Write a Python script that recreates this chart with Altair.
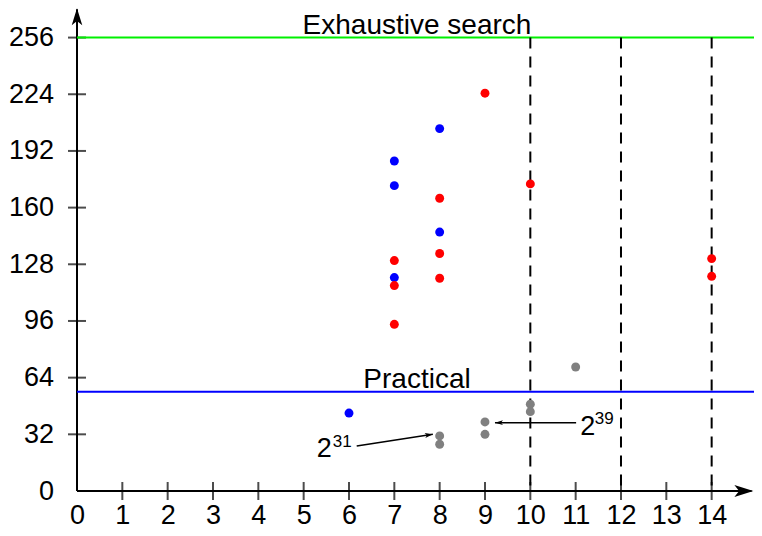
import altair as alt
import pandas as pd

FONT = "Liberation Sans"

# ---- data ----
blue_x = [6, 7, 7, 7, 8, 8]
blue_y = [44, 186.3, 172.4, 120.5, 204.6, 146.2]
red_x = [7, 7, 7, 8, 8, 8, 9, 10, 14, 14]
red_y = [130.1, 116.0, 94.1, 165.3, 134.1, 120.1, 224.6, 173.4, 131.2, 121.2]
gray_x = [8, 8, 9, 9, 10, 10, 11]
gray_y = [31.1, 26.4, 39.0, 32.0, 49.0, 44.8, 70.0]

x_ticks = list(range(0, 15))
y_ticks = [0, 32, 64, 96, 128, 160, 192, 224, 256]

hline_y = [256, 56]
hline_names = ["Exhaustive search", "Practical"]
hline_colors = ["#00f000", "#0000ff"]
hline_label_x = [7.5, 7.5]
hline_label_y = [258.3, 58.4]

dashed_x = [10, 12, 14]

arrow_tail_x = [6.17, 11.01]
arrow_tail_y = [25.4, 38.6]
arrow_tip_x = [7.85, 9.22]
arrow_tip_y = [32.0, 38.6]
arrow_angle = [351.3, 180]

ann_base = ["2", "2"]
ann_base_x = [5.29, 11.10]
ann_base_y = [19.2, 31.4]
ann_sup = ["31", "39"]
ann_sup_x = [5.64, 11.42]
ann_sup_y = [24.8, 38.0]

X_MAX = 14.934  # right end of the visible plot
Y_MAX = 272.7

# ---- scales / axes ----
xs = alt.Scale(domain=[0, X_MAX], nice=False, zero=False)
ys = alt.Scale(domain=[0, Y_MAX], nice=False, zero=False)
xaxis = alt.Axis(values=x_ticks, title=None, grid=False, domain=False, ticks=False,
                 tickSize=0, labelFontSize=27, labelFont=FONT, labelColor="black",
                 labelPadding=11, labelFlush=False, labelOverlap=False, labelAngle=0)
yaxis = alt.Axis(values=y_ticks, title=None, grid=False, domain=False, ticks=False,
                 tickSize=0, labelFontSize=27, labelFont=FONT, labelColor="black",
                 labelPadding=23.5, labelFlush=False, labelOverlap=False)


def X(f):
    return alt.X(f, type="quantitative", scale=xs, axis=xaxis)


def Y(f):
    return alt.Y(f, type="quantitative", scale=ys, axis=yaxis)


# ---- tables ----
pts = pd.DataFrame({
    "x": blue_x + red_x + gray_x,
    "y": blue_y + red_y + gray_y,
    "s": ["blue"] * len(blue_x) + ["red"] * len(red_x) + ["gray"] * len(gray_x),
})
hl = pd.DataFrame({"y": hline_y, "name": hline_names, "c": hline_colors,
                   "x0": [0, 0], "x1": [X_MAX, X_MAX],
                   "lx": hline_label_x, "ly": hline_label_y})
dl = pd.DataFrame({"x": dashed_x, "top": [256] * 3, "bot": [0] * 3})
xt = pd.DataFrame({"x": x_ticks[1:], "y": [0] * (len(x_ticks) - 1)})
yt = pd.DataFrame({"y": y_ticks[1:], "x": [0] * (len(y_ticks) - 1)})
axl = pd.DataFrame({"x": [0, 0], "y": [0, 0], "x2": [14.88, 0], "y2": [0, 272.0]})
axh = pd.DataFrame({"x": [14.92, 0], "y": [0, 272.5], "a": [0, 270]})
arr = pd.DataFrame({"x": arrow_tail_x, "y": arrow_tail_y, "x2": arrow_tip_x,
                    "y2": arrow_tip_y, "a": arrow_angle})
tb = pd.DataFrame({"t": ann_base, "x": ann_base_x, "y": ann_base_y})
ts = pd.DataFrame({"t": ann_sup, "x": ann_sup_x, "y": ann_sup_y})

HEAD = "M 0 0 L -2 -0.62 L -1.5 0 L -2 0.62 Z"

axis_lines = alt.Chart(axl).mark_rule(color="black", strokeWidth=2).encode(
    x=X("x"), y=Y("y"), x2="x2", y2="y2")
x_tick_marks = alt.Chart(xt).mark_tick(orient="vertical", size=18, thickness=2,
                                       color="black").encode(x=X("x"), y=Y("y"))
y_tick_marks = alt.Chart(yt).mark_tick(orient="horizontal", size=18, thickness=2,
                                       color="black").encode(x=X("x"), y=Y("y"))
x_head = alt.Chart(axh.iloc[[0]]).mark_point(shape=HEAD, filled=True, size=361,
                                             color="black", opacity=1).encode(
    x=X("x"), y=Y("y"), angle=alt.Angle("a", scale=None))
y_head = alt.Chart(axh.iloc[[1]]).mark_point(shape=HEAD, filled=True, size=289,
                                             color="black", opacity=1).encode(
    x=X("x"), y=Y("y"), angle=alt.Angle("a", scale=None))

hlines = alt.Chart(hl).mark_rule(strokeWidth=2).encode(
    x=X("x0"), x2="x1", y=Y("y"), color=alt.Color("c", scale=None))
dlines = alt.Chart(dl).mark_rule(strokeWidth=2, color="black", strokeDash=[11, 8]).encode(
    x=X("x"), y=Y("top"), y2="bot")
hlabels = alt.Chart(hl).mark_text(font=FONT, fontSize=28, align="center",
                                  baseline="alphabetic", color="black").encode(
    x=X("lx"), y=Y("ly"), text="name")

arr_lines = alt.Chart(arr).mark_rule(color="black", strokeWidth=1.5).encode(
    x=X("x"), y=Y("y"), x2="x2", y2="y2")
arr_heads = alt.Chart(arr).mark_point(shape=HEAD, filled=True, size=64, color="black",
                                      opacity=1).encode(
    x=X("x2"), y=Y("y2"), angle=alt.Angle("a", scale=None))

points = alt.Chart(pts).mark_circle(size=80, opacity=1).encode(
    x=X("x"), y=Y("y"),
    color=alt.Color("s", scale=alt.Scale(domain=["blue", "red", "gray"],
                                         range=["#0000ff", "#ff0000", "#808080"]),
                    legend=None))

t_base = alt.Chart(tb).mark_text(font=FONT, fontSize=27, align="left",
                                 baseline="alphabetic", color="black").encode(
    x=X("x"), y=Y("y"), text="t")
t_sup = alt.Chart(ts).mark_text(font=FONT, fontSize=17, align="left",
                                baseline="alphabetic", color="black").encode(
    x=X("x"), y=Y("y"), text="t")

chart = alt.layer(
    axis_lines, x_tick_marks, y_tick_marks, x_head, y_head,
    hlines, dlines, arr_lines, arr_heads, points, hlabels, t_base, t_sup
).properties(
    width=677, height=483,
    padding={"left": 69, "top": 0, "right": 0, "bottom": 37},
    autosize=alt.AutoSizeParams(type="none"),
).configure_view(strokeWidth=0)

chart.save("out.html", embed_options={"renderer": "svg", "actions": False})
